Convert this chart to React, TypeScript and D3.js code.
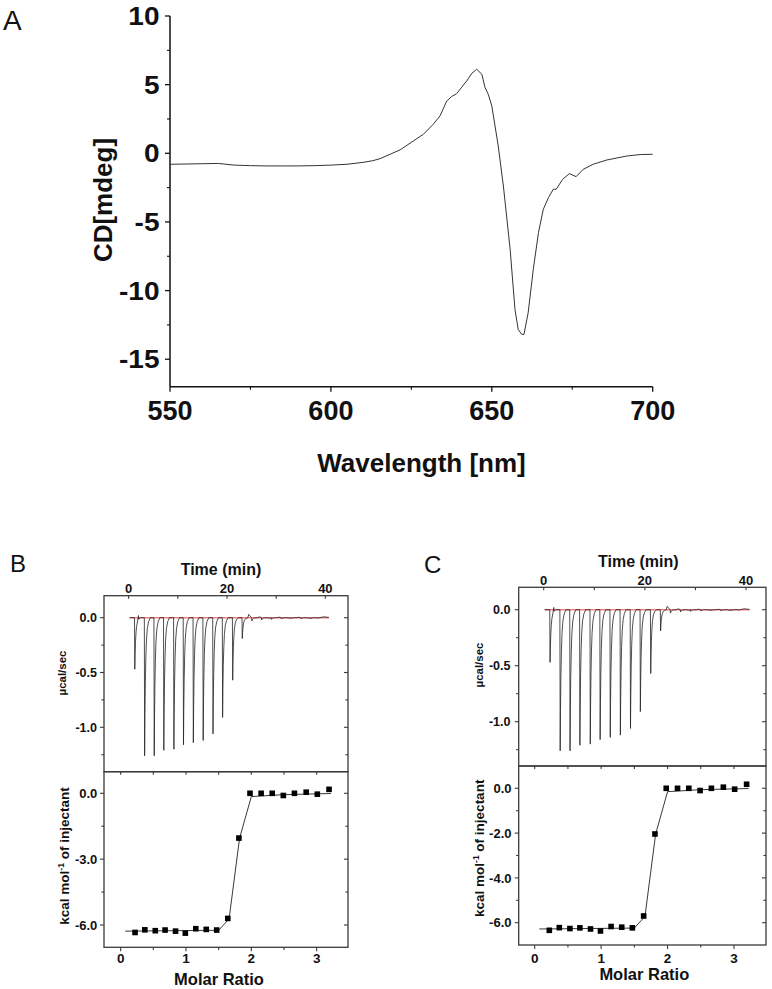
import React from "react";
import * as d3 from "d3";

const FONT = "'Liberation Sans', Arial, Helvetica, sans-serif";

// ---------- Panel A : CD spectrum ----------
const cdWavelength = [550, 555, 560, 565, 570, 575, 580, 585, 590, 595, 600, 605, 610, 613,
  615.3, 621.5, 628.7, 631.8, 633.9, 636.0, 637.5, 639.1, 642.2, 643.8, 645.3, 646.9, 647.9, 648.9,
  650.0, 652.0, 653.6, 655.7, 657.2, 658.2, 659.3, 660.0, 661.3, 662.9, 664.5, 666.0, 667.6, 669.1,
  670.0, 672.0, 674.1, 676.2, 678.4, 681.5, 685.7, 691.9, 696.1, 700];
const cdValue = [-0.8, -0.78, -0.76, -0.74, -0.86, -0.9, -0.92, -0.92, -0.92, -0.9, -0.86, -0.8, -0.66, -0.54,
  -0.39, 0.25, 1.38, 2.11, 2.72, 3.81, 4.13, 4.35, 5.27, 5.83, 6.12, 5.76, 4.79, 4.30,
  3.45, 0.53, -2.38, -7.0, -11.37, -12.83, -13.19, -13.19, -11.61, -8.45, -5.78, -4.08, -3.23, -2.62,
  -2.62, -1.90, -1.48, -1.70, -1.17, -0.80, -0.49, -0.20, -0.09, -0.07];
const cdXTicks = [550, 600, 650, 700];
const cdXMinor = [575, 625, 675];
const cdYTicks = [-15, -10, -5, 0, 5, 10];
const cdYMinor = [-12.5, -7.5, -2.5, 2.5, 7.5];

// ---------- Panels B/C : ITC ----------
const injectionTimes = [1.2, 3.2, 5.15, 7.1, 9.15, 11.1, 13.1, 15.1, 17.1, 19.05, 21.1, 23.05, 25.0, 27.0, 29.0, 31.0, 33.0, 35.0, 37.0];
const injectionPeaks = [-0.47, -1.26, -1.26, -1.21, -1.2, -1.16, -1.14, -1.12, -1.06, -0.91, -0.57, -0.19, -0.03, -0.02, -0.015, -0.012, -0.01, -0.012, -0.01];
const peakShapeDt = [0, 0.06, 0.12, 0.2, 0.3, 0.42, 0.6, 0.85, 1.2];
const peakShapeFrac = [0, 1, 0.72, 0.48, 0.3, 0.17, 0.08, 0.03, 0];
const bumpTimes = [0.2, 2.0, 24.4, 26.6, 28.6, 30.5, 32.6, 34.5, 36.6, 38.5, 39.6, 40.7];
const bumpValues = [0, 0.02, 0.03, 0.008, -0.006, 0.005, -0.004, 0.004, -0.006, -0.004, 0.008, 0.003];
const baselineTimes = [0.2, 40.7];
const baselineValues = [0, 0];

const molarRatio = [0.22, 0.37, 0.53, 0.68, 0.84, 0.99, 1.15, 1.31, 1.47, 1.64, 1.81, 1.98, 2.15, 2.32, 2.49, 2.66, 2.84, 3.01, 3.19];
const heatPerMol = [-6.34, -6.22, -6.26, -6.23, -6.28, -6.37, -6.17, -6.2, -6.23, -5.7, -2.04, 0.0, 0.0, 0.0, -0.1, 0.0, 0.05, -0.04, 0.18];
const fitRatio = [0.07, 1.5, 1.66, 1.82, 2.0, 2.5, 3.22];
const fitHeat = [-6.28, -6.24, -5.72, -2.05, -0.15, -0.06, -0.01];

const timeTicks = [0, 20, 40];
const timeMinor = [10, 30];
const rawTicks = [0, -0.5, -1.0];
const rawMinor = [-0.25, -0.75, -1.25];
const molarTicks = [0, 1, 2, 3];
const molarMinor = [0.5, 1.5, 2.5];
const heatTicksB = [0, -3, -6];
const heatMinorB = [-1.5, -4.5];
const heatTicksC = [0, -2, -4, -6];
const heatMinorC = [-1, -3, -5];

function buildTrace() {
  const pts: [number, number][] = [];
  injectionTimes.forEach((t, i) => {
    peakShapeDt.forEach((dt, k) => pts.push([t + dt, injectionPeaks[i] * peakShapeFrac[k]]));
  });
  bumpTimes.forEach((t, i) => pts.push([t, bumpValues[i]]));
  pts.sort((a, b) => a[0] - b[0]);
  return pts;
}

type ITCProps = {
  letter: string; letterX: number; letterY: number;
  left: number; right: number; top: number; div: number; bottom: number;
  timeDomain: [number, number]; molarDomain: [number, number];
  rawRange: [number, number]; heatRange: [number, number];
  heatTicks: number[]; heatMinor: number[]; heatFmt: (v: number) => string;
  timeLabelY: number; timeTitle: [number, number];
  rawLabelRight: number; rawTitle: [number, number];
  heatLabelRight: number; heatTitle: [number, number];
  molarLabelY: number; molarTitle: [number, number];
};

function ITC(p: ITCProps) {
  const tx = d3.scaleLinear().domain(p.timeDomain).range([p.left, p.right]);
  const ry = d3.scaleLinear().domain([0, -1]).range(p.rawRange);
  const mx = d3.scaleLinear().domain(p.molarDomain).range([p.left, p.right]);
  const hy = d3.scaleLinear().domain([0, -6]).range(p.heatRange);
  const trace = buildTrace();
  const traceLine = d3.line<[number, number]>().x(d => tx(d[0])).y(d => ry(d[1]));
  const baseLine = d3.line<number>().x(d => tx(d)).y((_, i) => ry(baselineValues[i]));
  const fitLine = d3.line<number>().x(d => mx(d)).y((_, i) => hy(fitHeat[i]));
  const frame = { fill: "none", stroke: "#3a3a3a", strokeWidth: 1.3 };
  const tk = { stroke: "#3a3a3a", strokeWidth: 1.1 };
  const M = 4, m = 2.6;
  const bold = { fontFamily: FONT, fontWeight: 700, fill: "#111" } as const;
  const sq = 5.6;
  return (
    <g>
      <text x={p.letterX} y={p.letterY} fontFamily={FONT} fontSize={24} fill="#111">{p.letter}</text>
      <rect x={p.left} y={p.top} width={p.right - p.left} height={p.div - p.top} {...frame} />
      <rect x={p.left} y={p.div} width={p.right - p.left} height={p.bottom - p.div} {...frame} />
      {timeTicks.concat(timeMinor).map(t => (
        <line key={"t" + t} x1={tx(t)} x2={tx(t)} y1={p.top} y2={p.top + 3} {...tk} />
      ))}
      {timeTicks.map(t => (
        <text key={"tl" + t} x={tx(t)} y={p.timeLabelY} textAnchor="middle" fontSize={13} {...bold}>{t}</text>
      ))}
      <text x={p.timeTitle[0]} y={p.timeTitle[1]} textAnchor="middle" fontSize={16} {...bold}>Time (min)</text>
      {rawTicks.map(v => (
        <g key={"r" + v}>
          <line x1={p.left - M} x2={p.left} y1={ry(v)} y2={ry(v)} {...tk} />
          <line x1={p.right - M} x2={p.right} y1={ry(v)} y2={ry(v)} {...tk} />
          <text x={p.rawLabelRight} y={ry(v)} dy="0.36em" textAnchor="end" fontSize={12.5} {...bold}>{v.toFixed(1)}</text>
        </g>
      ))}
      {rawMinor.map(v => (
        <g key={"rm" + v}>
          <line x1={p.left - m} x2={p.left} y1={ry(v)} y2={ry(v)} {...tk} />
          <line x1={p.right - m} x2={p.right} y1={ry(v)} y2={ry(v)} {...tk} />
        </g>
      ))}
      <text transform={`translate(${p.rawTitle[0]},${p.rawTitle[1]}) rotate(-90)`} textAnchor="middle" fontSize={11.5} {...bold}>µcal/sec</text>
      <path d={baseLine(baselineTimes) || ""} fill="none" stroke="#f08080" strokeWidth={1.6} />
      <path d={traceLine(trace) || ""} fill="none" stroke="#222" strokeWidth={0.8} />
      {molarTicks.concat(molarMinor).map(v => (
        <g key={"m" + v}>
          <line x1={mx(v)} x2={mx(v)} y1={p.div} y2={p.div + 3} {...tk} />
          <line x1={mx(v)} x2={mx(v)} y1={p.bottom} y2={p.bottom + (molarTicks.includes(v) ? M : m)} {...tk} />
        </g>
      ))}
      {molarTicks.map(v => (
        <text key={"ml" + v} x={mx(v)} y={p.molarLabelY} textAnchor="middle" fontSize={13.5} {...bold}>{v}</text>
      ))}
      <text x={p.molarTitle[0]} y={p.molarTitle[1]} textAnchor="middle" fontSize={16.5} {...bold}>Molar Ratio</text>
      {p.heatTicks.map(v => (
        <g key={"h" + v}>
          <line x1={p.left - M} x2={p.left} y1={hy(v)} y2={hy(v)} {...tk} />
          <line x1={p.right - M} x2={p.right} y1={hy(v)} y2={hy(v)} {...tk} />
          <text x={p.heatLabelRight} y={hy(v)} dy="0.36em" textAnchor="end" fontSize={13} {...bold}>{p.heatFmt(v)}</text>
        </g>
      ))}
      {p.heatMinor.map(v => (
        <g key={"hm" + v}>
          <line x1={p.left - m} x2={p.left} y1={hy(v)} y2={hy(v)} {...tk} />
          <line x1={p.right - m} x2={p.right} y1={hy(v)} y2={hy(v)} {...tk} />
        </g>
      ))}
      <text transform={`translate(${p.heatTitle[0]},${p.heatTitle[1]}) rotate(-90)`} textAnchor="middle" fontSize={13.5} {...bold}>
        kcal mol<tspan dy={-5} fontSize={8.5}>-1</tspan><tspan dy={5}> of injectant</tspan>
      </text>
      <path d={fitLine(fitRatio) || ""} fill="none" stroke="#222" strokeWidth={0.9} />
      {molarRatio.map((r, i) => (
        <rect key={"sq" + i} x={mx(r) - sq / 2} y={hy(heatPerMol[i]) - sq / 2} width={sq} height={sq} fill="#000" />
      ))}
    </g>
  );
}

export default function App() {
  const ax = d3.scaleLinear().domain([550, 700]).range([170, 652.7]);
  const ay = d3.scaleLinear().domain([-17, 10]).range([386.7, 16]);
  const cdLine = d3.line<number>().x(d => ax(d)).y((_, i) => ay(cdValue[i]));
  const bold = { fontFamily: FONT, fontWeight: 700, fill: "#111" } as const;
  return (
    <svg width={772} height={989} style={{ position: "absolute", left: 0, top: 0, background: "#fff" }}>
      <rect width={772} height={989} fill="#fff" />
      <text x={3} y={30} fontFamily={FONT} fontSize={28} fill="#111">A</text>
      <line x1={170} x2={170} y1={ay(10)} y2={ay(-17)} stroke="#111" strokeWidth={1.5} />
      <line x1={ax(550)} x2={ax(700)} y1={ay(-17)} y2={ay(-17)} stroke="#111" strokeWidth={1.5} />
      {cdYTicks.map(v => (
        <g key={"cy" + v}>
          <line x1={165} x2={170} y1={ay(v)} y2={ay(v)} stroke="#111" strokeWidth={1.3} />
          <text transform={`translate(159.5,${ay(v)}) scale(1.12,1)`} dy="0.36em" textAnchor="end" fontSize={25} {...bold}>{v}</text>
        </g>
      ))}
      {cdYMinor.map(v => (
        <line key={"cym" + v} x1={167} x2={170} y1={ay(v)} y2={ay(v)} stroke="#111" strokeWidth={1.1} />
      ))}
      {cdXTicks.map(v => (
        <g key={"cx" + v}>
          <line x1={ax(v)} x2={ax(v)} y1={ay(-17)} y2={ay(-17) + 5} stroke="#111" strokeWidth={1.3} />
          <text x={ax(v)} y={420} textAnchor="middle" fontSize={27} {...bold}>{v}</text>
        </g>
      ))}
      {cdXMinor.map(v => (
        <line key={"cxm" + v} x1={ax(v)} x2={ax(v)} y1={ay(-17)} y2={ay(-17) + 3} stroke="#111" strokeWidth={1.1} />
      ))}
      <text transform="translate(112,200) rotate(-90)" textAnchor="middle" fontSize={26} {...bold}>CD[mdeg]</text>
      <text x={421.5} y={472} textAnchor="middle" fontSize={26} {...bold}>Wavelength [nm]</text>
      <path d={cdLine(cdWavelength) || ""} fill="none" stroke="#333" strokeWidth={1} />

      <ITC letter="B" letterX={10} letterY={571.7}
        left={104} right={348} top={595.7} div={771.7} bottom={947.3}
        timeDomain={[-5, 44.6]} molarDomain={[-0.255, 3.48]}
        rawRange={[617.7, 727.3]} heatRange={[793.3, 925]}
        heatTicks={heatTicksB} heatMinor={heatMinorB} heatFmt={v => v.toFixed(1)}
        timeLabelY={592.7} timeTitle={[221, 575]}
        rawLabelRight={97} rawTitle={[66, 673]}
        heatLabelRight={97.3} heatTitle={[68.5, 856]}
        molarLabelY={963} molarTitle={[219, 985]} />

      <ITC letter="C" letterX={424} letterY={573}
        left={518.7} right={766} top={587.3} div={766} bottom={945}
        timeDomain={[-4.94, 43.95]} molarDomain={[-0.241, 3.482]}
        rawRange={[609.7, 721.7]} heatRange={[788.3, 922.7]}
        heatTicks={heatTicksC} heatMinor={heatMinorC} heatFmt={v => v.toFixed(1)}
        timeLabelY={585} timeTitle={[638.3, 567]}
        rawLabelRight={510.5} rawTitle={[483, 665]}
        heatLabelRight={511.5} heatTitle={[484, 848.3]}
        molarLabelY={962.7} molarTitle={[644.3, 980]} />
    </svg>
  );
}
